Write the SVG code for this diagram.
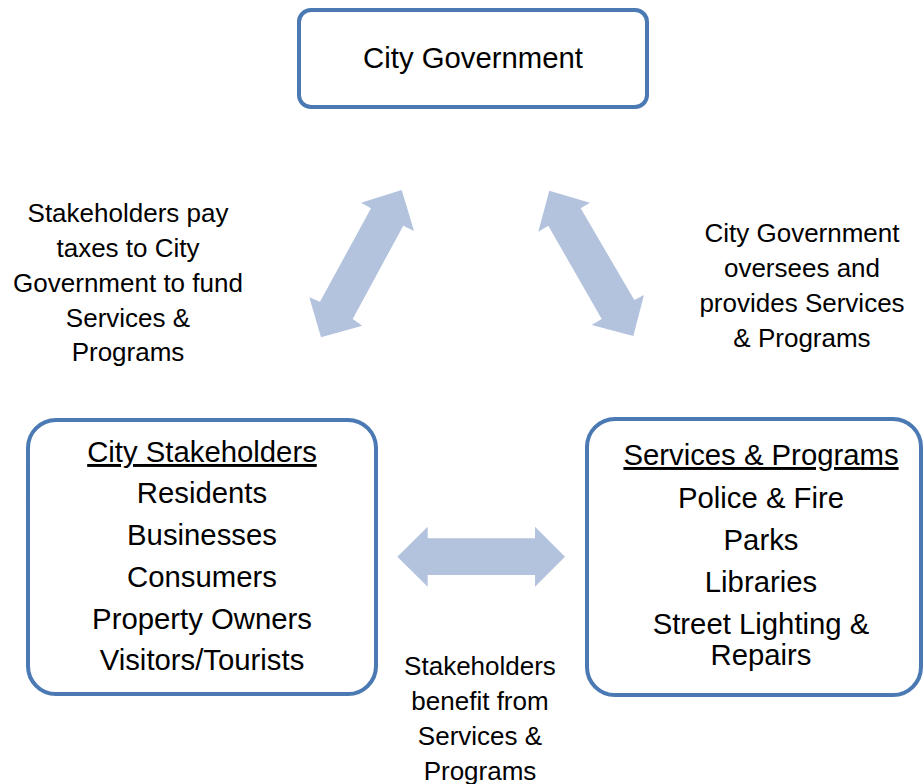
<svg xmlns="http://www.w3.org/2000/svg" width="924" height="784" viewBox="0 0 924 784">
<style>
.box{fill:#fff;stroke:#4A79B3;stroke-width:4}
.arrow{fill:#B3C3DE;stroke:none}
text{font-family:"Liberation Sans",Arial,sans-serif;fill:#000;text-anchor:middle}
.bt{font-size:29.3px}
.lb{font-size:26px}
.ul{text-decoration:underline}
</style>
<rect width="924" height="784" fill="#fff"/>
<g id="connectors">
<polygon class="arrow" points="401.7,190 414,231 403.3,225.7 352.7,319 362.3,325.7 321,337.3 309.3,297.3 320,301.7 371,208.3 361,202.7"/>
<polygon class="arrow" points="549.3,190.7 590,202.7 580.7,208.3 634.3,300 644,295 633.3,336 591.7,325 601.7,319 548.3,225.7 538.3,231.7"/>
<polygon class="arrow" points="397.3,556.7 427.7,526.7 427.7,538.3 535,538.3 535,526.7 565,556.7 535,586.7 535,575 427.7,575 427.7,586.7"/>
</g>
<g id="node-city-government">
<rect class="box" x="299" y="10" width="348" height="97" rx="12"/>
<text class="bt" x="473" y="68">City Government</text>
</g>
<g id="node-city-stakeholders">
<rect class="box" x="28" y="420" width="348" height="274" rx="28"/>
<text class="bt ul" x="202" y="462">City Stakeholders</text>
<text class="bt" x="202" y="503">Residents</text>
<text class="bt" x="202" y="545">Businesses</text>
<text class="bt" x="202" y="587">Consumers</text>
<text class="bt" x="202" y="629">Property Owners</text>
<text class="bt" x="202" y="670">Visitors/Tourists</text>
</g>
<g id="node-services-programs">
<rect class="box" x="587" y="419" width="334" height="276" rx="28"/>
<text class="bt ul" x="761" y="465">Services &amp; Programs</text>
<text class="bt" x="761" y="508">Police &amp; Fire</text>
<text class="bt" x="761" y="550">Parks</text>
<text class="bt" x="761" y="592">Libraries</text>
<text class="bt" x="761" y="634">Street Lighting &amp;</text>
<text class="bt" x="761" y="665">Repairs</text>
</g>
<g id="label-taxes">
<text class="lb" x="128" y="222">Stakeholders pay</text>
<text class="lb" x="128" y="257">taxes to City</text>
<text class="lb" x="128" y="292">Government to fund</text>
<text class="lb" x="128" y="327">Services &amp;</text>
<text class="lb" x="128" y="361">Programs</text>
</g>
<g id="label-oversees">
<text class="lb" x="802" y="242">City Government</text>
<text class="lb" x="802" y="277">oversees and</text>
<text class="lb" x="802" y="312">provides Services</text>
<text class="lb" x="802" y="347">&amp; Programs</text>
</g>
<g id="label-benefit">
<text class="lb" x="480" y="675">Stakeholders</text>
<text class="lb" x="480" y="710">benefit from</text>
<text class="lb" x="480" y="745">Services &amp;</text>
<text class="lb" x="480" y="780">Programs</text>
</g>
</svg>
